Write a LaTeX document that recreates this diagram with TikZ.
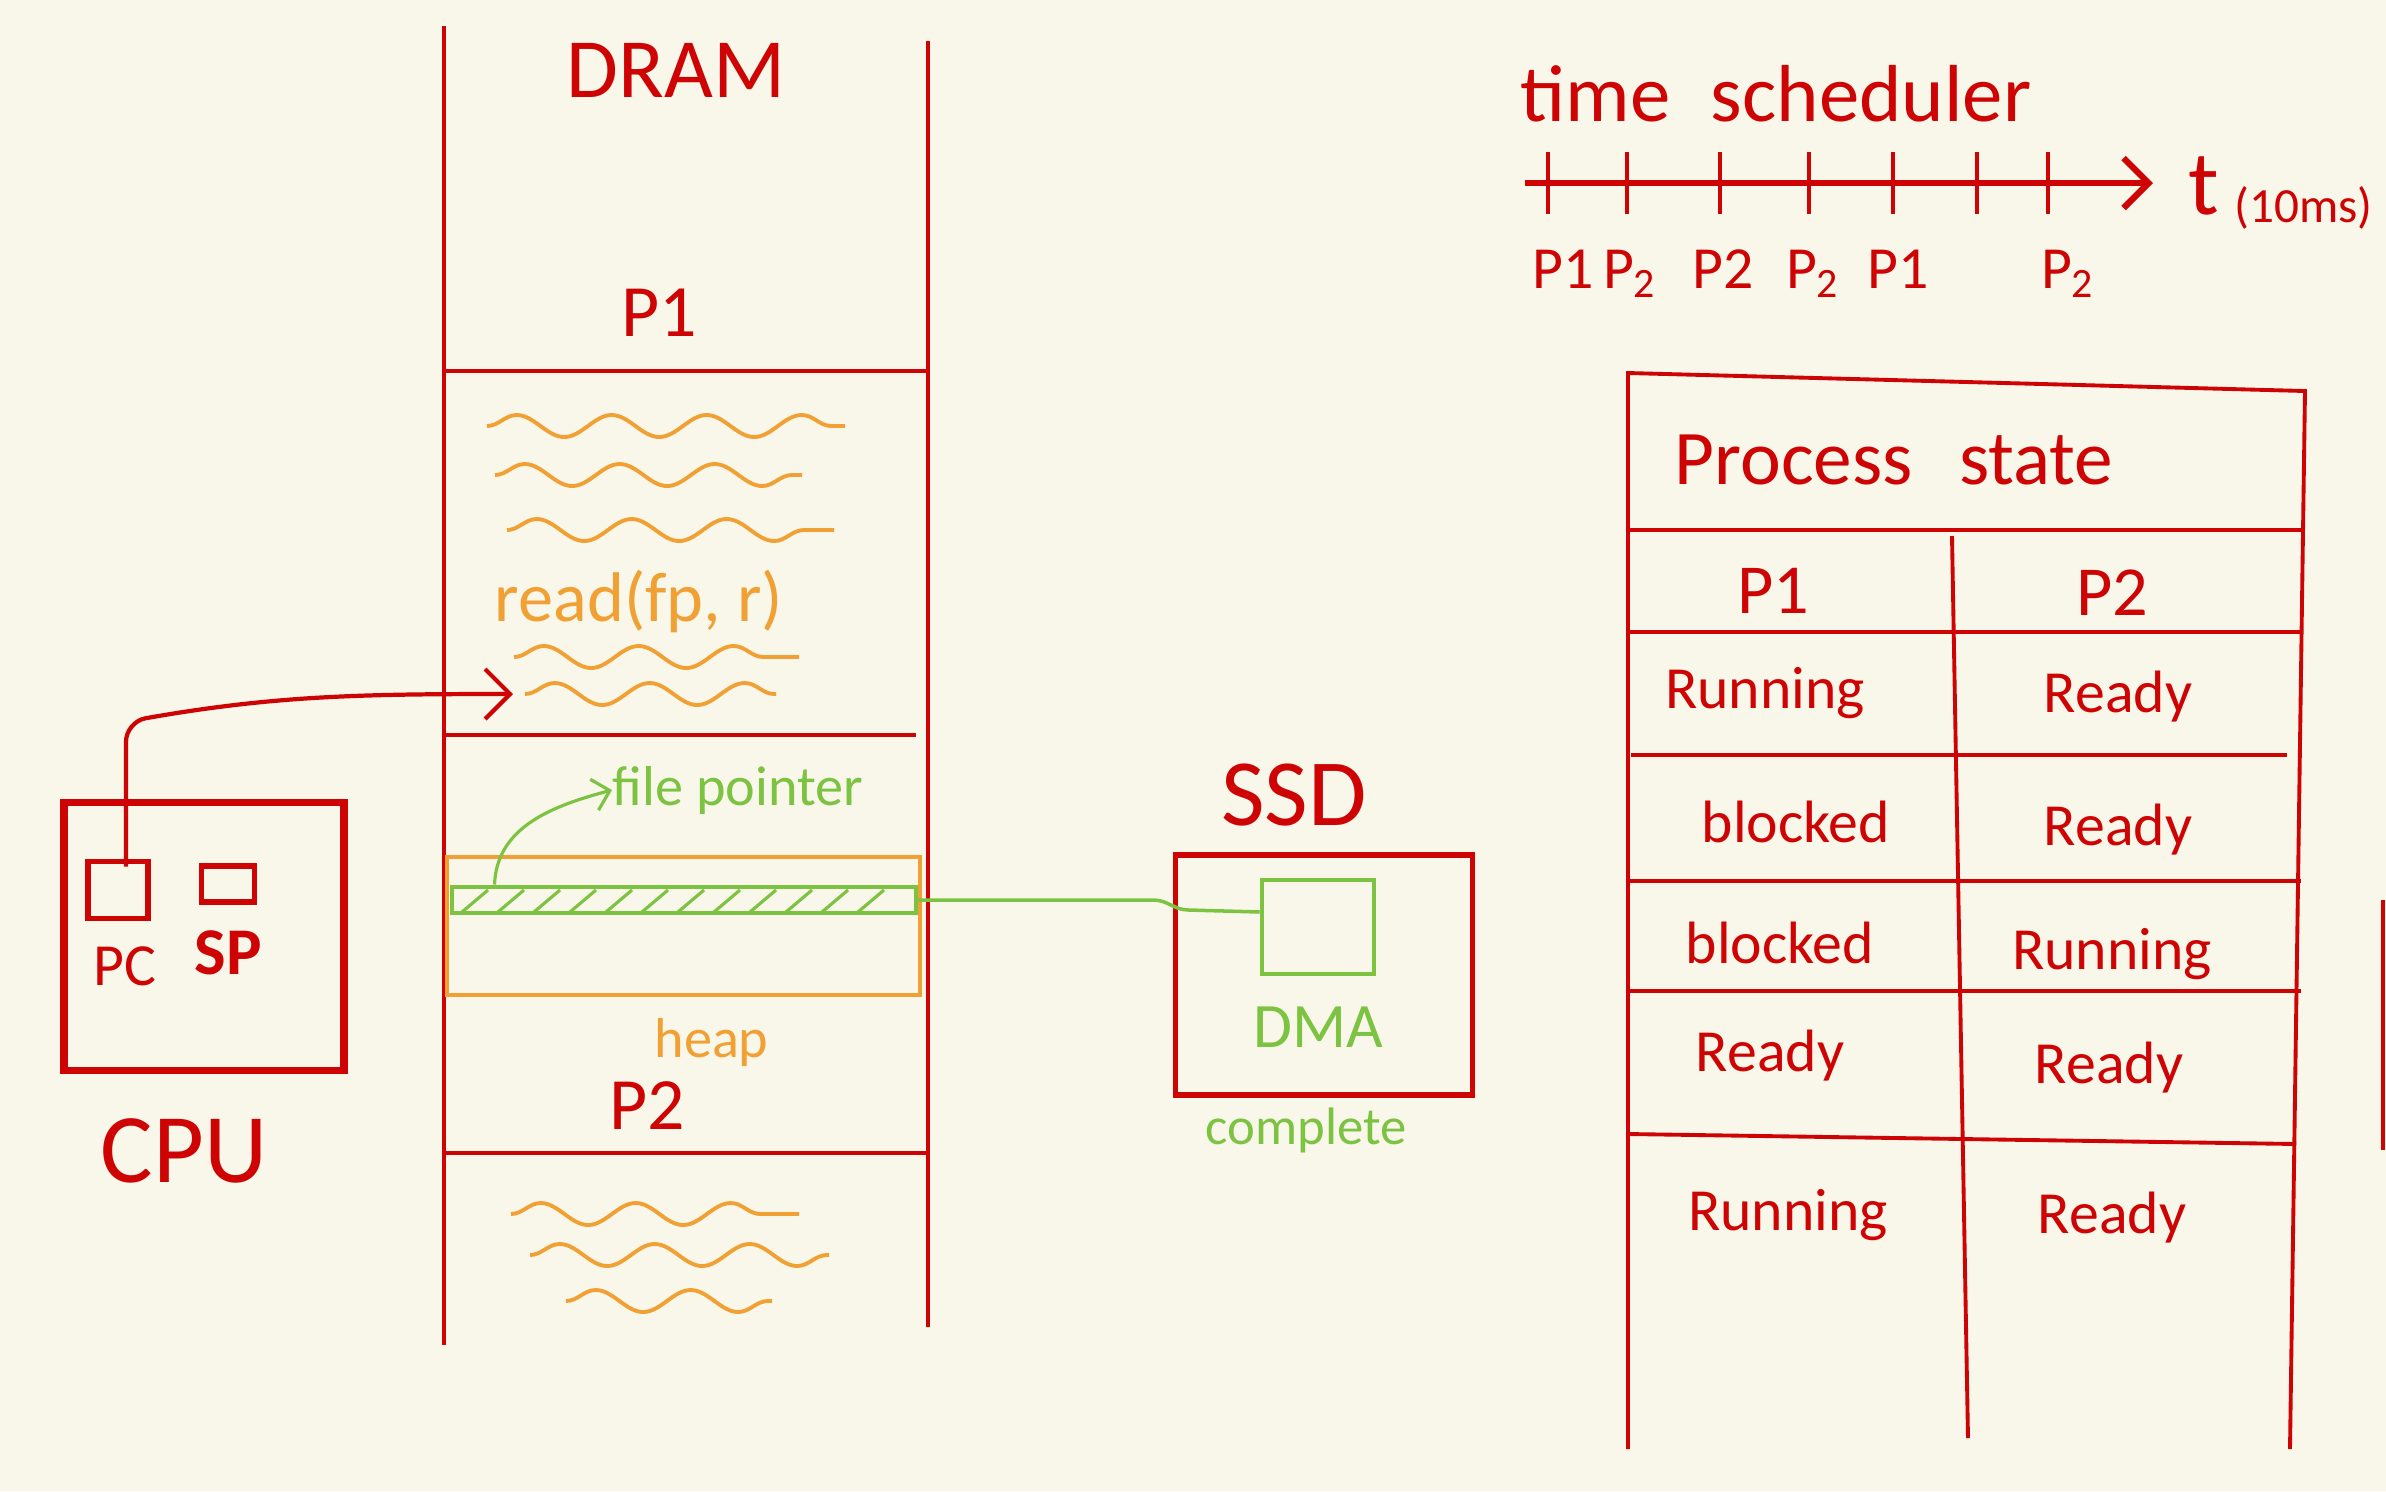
\documentclass[tikz,border=0pt]{standalone}
\usepackage{fontspec}
\setmainfont{Carlito}
\usepackage{tikz}
\usetikzlibrary{positioning,arrows.meta,calc,decorations.pathmorphing}
\definecolor{Paper}{RGB}{249,246,234}
\definecolor{InkRed}{RGB}{206,4,4}
\definecolor{InkOrange}{RGB}{241,161,52}
\definecolor{InkGreen}{RGB}{125,195,66}
\newcommand{\handsize}[1]{\fontsize{#1}{#1}\selectfont}

\begin{document}
\begin{tikzpicture}[
    ink/.style={draw=InkRed, line width=1.1pt},
    redtext/.style={text=InkRed, inner sep=0pt},
    orangetext/.style={text=InkOrange, inner sep=0pt},
    greentext/.style={text=InkGreen, inner sep=0pt},
    scrawl/.style={draw=InkOrange, line width=1.1pt, decorate,
                   decoration={snake, segment length=9.5mm, amplitude=1.1mm}},
    reg/.style={rectangle, draw=InkRed, line width=1.6pt, inner sep=0pt},
    greenbox/.style={rectangle, draw=InkGreen, line width=1.3pt, inner sep=0pt},
    cell/.style={text=InkRed, inner sep=0pt, anchor=base, font=\handsize{17pt}},
    barb/.style={-{Straight Barb[length=2.5mm, width=5mm]}}
]
    \path[use as bounding box, fill=Paper] (0,0) rectangle (23.86,-14.91);

    % DRAM
    \draw[ink, line width=1.3pt] (4.44,-0.26) -- (4.44,-13.45);
    \draw[ink, line width=1.3pt] (9.28,-0.41) -- (9.28,-13.27);
    \draw[ink] (4.44,-3.71) -- (9.28,-3.71);
    \draw[ink] (4.44,-7.35) -- (9.16,-7.35);
    \draw[ink] (4.44,-11.53) -- (9.28,-11.53);
    \node[redtext, font=\handsize{24pt}] (dram) at (6.76,-0.70) {DRAM};
    \node[redtext, font=\handsize{21pt}] (p1) at (6.59,-3.13) {P1};
    \node[redtext, font=\handsize{21pt}] (p2) at (6.47,-11.06) {P2};

    \foreach \y/\xa/\xb [count=\i] in {-4.26/4.87/8.45, -4.75/4.95/8.02, -5.30/5.07/8.34,
        -6.57/5.14/7.99, -6.94/5.25/7.76, -12.14/5.11/7.99, -12.55/5.30/8.29, -13.01/5.66/7.72}
        \draw[scrawl] (\xa,\y) coordinate (w\i) -- (\xb,\y);
    \node[orangetext, font=\handsize{20pt}] (call) at (6.39,-6.01) {read(fp, r)};

    \node[rectangle, draw=InkOrange, line width=1.3pt, minimum width=4.73cm,
          minimum height=1.38cm, inner sep=0pt] (heapbox) at (6.835,-9.26) {};
    \node[orangetext, font=\handsize{16pt}, below=0.2cm of heapbox, xshift=0.28cm] (heaplbl) {heap};
    \node[greenbox, line width=1.4pt, minimum width=4.64cm, minimum height=0.26cm] (fptr) at (6.84,-9.0) {};
    \foreach \x in {4.62,4.98,...,8.9}
        \draw[draw=InkGreen, line width=0.9pt] (\x,-9.12) -- ++(0.26,0.22);
    \node[greentext, font=\handsize{16pt}, anchor=west] (fplbl) at (6.12,-7.9) {file pointer};
    \draw[draw=InkGreen, line width=0.9pt, -{Straight Barb[length=1.6mm, width=3.2mm]}]
        ($(fptr.north west)+(0.45,0)$) to[out=88, in=195] (fplbl.west);

    % CPU
    \node[reg, line width=2pt, minimum width=2.8cm, minimum height=2.68cm] (cpu) at (2.04,-9.36) {};
    \node[reg, minimum width=0.6cm, minimum height=0.57cm] (pc) at (1.18,-8.9) {};
    \node[reg, minimum width=0.53cm, minimum height=0.36cm] (sp) at (2.28,-8.84) {};
    \node[redtext, font=\handsize{17pt}, below=0.25cm of pc, xshift=0.07cm] (pclbl) {PC};
    \node[redtext, font=\handsize{19pt}\bfseries, below=0.25cm of sp] (splbl) {SP};
    \node[redtext, font=\handsize{28pt}, below=0.44cm of cpu, xshift=-0.2cm] (cpulbl) {CPU};
    \coordinate (callpt) at ($(w5)+(-0.12,0)$);
    \draw[ink, line width=1.2pt, barb, rounded corners=2mm]
        ([xshift=0.8mm, yshift=-0.8mm]pc.north) -- ++(0,1.45) to[out=10, in=180] (callpt);

    % SSD
    \node[reg, line width=1.5pt, minimum width=2.97cm, minimum height=2.4cm] (ssd) at (13.24,-9.75) {};
    \node[redtext, font=\handsize{27pt}, above=0.26cm of ssd, xshift=-0.3cm] (ssdlbl) {SSD};
    \node[greenbox, minimum width=1.12cm, minimum height=0.94cm] (dma) at (13.18,-9.27) {};
    \node[greentext, font=\handsize{18pt}, below=0.3cm of dma] (dmalbl) {DMA};
    \node[greentext, font=\handsize{15pt}, below=0.1cm of ssd, xshift=-0.18cm] (donelbl) {complete};
    \draw[draw=InkGreen, line width=1pt] (fptr.east) -- ++(2.35,0)
        to[out=0, in=180] ++(0.35,-0.1) -- ([yshift=1.5mm]dma.west);

    % time scheduler
    \node[redtext, font=\handsize{23pt}] (sched) at (17.76,-0.94) {time\hspace{0.5em}scheduler};
    \coordinate (ax0) at (15.25,-1.83);
    \coordinate (ax1) at (21.53,-1.83);
    \draw[ink, line width=1.8pt, barb] (ax0) -- (ax1);
    \foreach \x [count=\i] in {15.48,16.27,17.20,18.09,18.93,19.77,20.48} {
        \coordinate (tk\i) at (\x,-1.83);
        \draw[ink] (tk\i) ++(0,0.31) -- ++(0,-0.62);
    }
    \foreach \i/\lab/\dx in {1/P1/0.15, 2/P\textsubscript{2}/0.03, 3/P2/0.03,
                             4/P\textsubscript{2}/0.04, 5/P1/0.05, 7/P\textsubscript{2}/0.2}
        \node[redtext, font=\handsize{17pt}, below=0.66cm of tk\i, xshift=\dx cm] (slot\i) {\lab};
    \node[redtext, font=\handsize{26pt}, right=0.35cm of ax1, yshift=-0.1cm] (tlbl)
        {t\,{\handsize{14pt}\raisebox{-0.15em}{(10ms)}}};

    % process state table
    \draw[ink] (16.28,-14.49) -- (16.28,-3.73) -- (23.05,-3.91) -- (22.90,-14.49);
    \draw[ink] (19.52,-5.36) -- (19.68,-14.38);
    \foreach \y in {-5.30,-6.32,-8.81,-9.91}
        \draw[ink] (16.28,\y) -- (23.01,\y);
    \draw[ink] (16.31,-7.55) -- (22.87,-7.55);
    \draw[ink] (16.28,-11.34) -- (22.96,-11.44);
    \node[cell, font=\handsize{22pt}] (pstate) at (18.94,-4.84) {Process\hspace{0.6em}state};
    \node[cell, font=\handsize{20pt}] (h1) at (17.73,-6.13) {P1};
    \node[cell, font=\handsize{20pt}] (h2) at (21.12,-6.15) {P2};
    \foreach \ya/\xa/\a/\yb/\xb/\b [count=\i] in {
        -7.08/17.65/Running/-7.12/21.18/Ready,
        -8.42/17.96/blocked/-8.45/21.18/Ready,
        -9.63/17.80/blocked/-9.69/21.12/Running,
        -10.71/17.70/Ready/-10.83/21.09/Ready,
        -12.30/17.88/Running/-12.33/21.12/Ready} {
        \node[cell] (a\i) at (\xa,\ya) {\a};
        \node[cell] (b\i) at (\xb,\yb) {\b};
    }
    \draw[ink] (23.83,-9.0) -- (23.83,-11.5);
\end{tikzpicture}
\end{document}
